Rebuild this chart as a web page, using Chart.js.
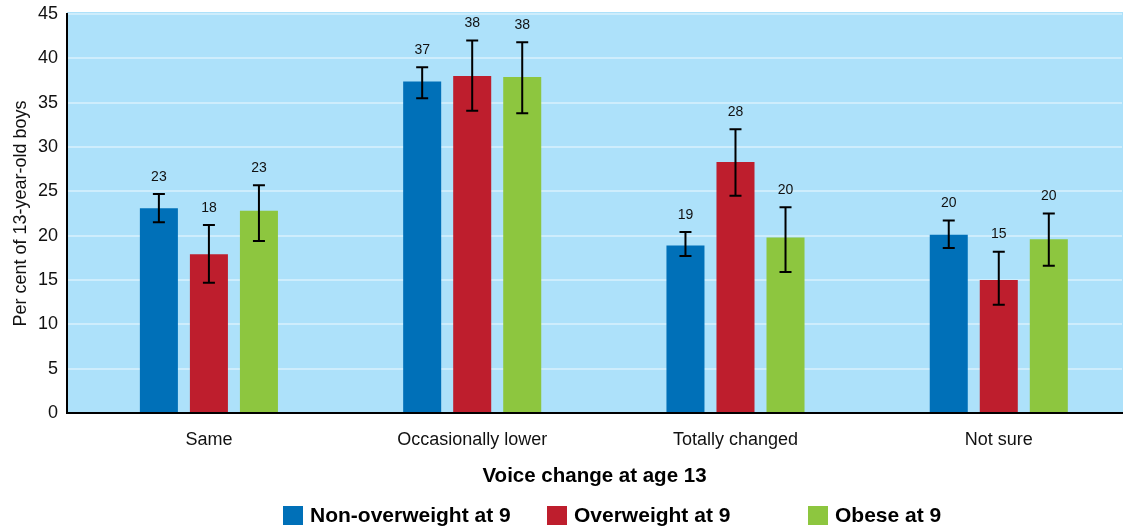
<!DOCTYPE html>
<html>
<head>
<meta charset="utf-8">
<script src="https://cdn.jsdelivr.net/npm/chart.js@4.4.1/dist/chart.umd.min.js"></script>
<style>
  html, body { margin: 0; padding: 0; background: #fff; overflow: hidden; }
  #wrap { position: relative; width: 1123px; height: 529px; }
  #legend { position: absolute; left: 0; top: 504px; width: 1123px; height: 22px;
            font-family: "Liberation Sans", Arial, sans-serif; font-weight: bold; font-size: 21px; color: #000; }
  .item { position: absolute; top: 0; display: flex; align-items: center; height: 22px; }
  .box { width: 20px; height: 19px; margin-right: 7px; }
</style>
</head>
<body>
<div id="wrap">
  <canvas id="voiceChart" width="1123" height="529"></canvas>
  <div id="legend"></div>
</div>
<script>
// data
const categories = ['Same', 'Occasionally lower', 'Totally changed', 'Not sure'];
const seriesNames = ['Non-overweight at 9', 'Overweight at 9', 'Obese at 9'];
const nonOverweight = [23.1, 37.4, 18.9, 20.1];
const overweight    = [17.9, 38.0, 28.3, 15.0];
const obese         = [22.8, 37.9, 19.8, 19.6];
// error bar ends (low, high)
const nonOverweightLow  = [21.5, 35.5, 17.7, 18.6];
const nonOverweightHigh = [24.7, 39.0, 20.4, 21.7];
const overweightLow     = [14.7, 34.1, 24.5, 12.2];
const overweightHigh    = [21.2, 42.0, 32.0, 18.2];
const obeseLow          = [19.4, 33.8, 15.9, 16.6];
const obeseHigh         = [25.7, 41.8, 23.2, 22.5];
const yTicks = [0, 5, 10, 15, 20, 25, 30, 35, 40, 45];

const colors = ['#0070B8', '#BE1E2D', '#8DC63F'];
const errLow = [nonOverweightLow, overweightLow, obeseLow];
const errHigh = [nonOverweightHigh, overweightHigh, obeseHigh];
const fontFamily = '"Liberation Sans", Arial, sans-serif';

// Latar belakang area plot biru muda
const plotBackground = {
  id: 'plotBackground',
  beforeDraw(chart) {
    const { ctx, chartArea: a } = chart;
    ctx.save();
    ctx.fillStyle = '#ADE1FA';
    ctx.fillRect(a.left, a.top - 2, a.right - a.left + 2, a.bottom - a.top + 2);
    ctx.restore();
  }
};

// error bar + angka di atasnya
const errorBars = {
  id: 'errorBars',
  afterDatasetsDraw(chart) {
    const { ctx } = chart;
    const y = chart.scales.y;
    ctx.save();
    chart.data.datasets.forEach((ds, di) => {
      const meta = chart.getDatasetMeta(di);
      meta.data.forEach((bar, i) => {
        const top = y.getPixelForValue(errHigh[di][i]);
        const bot = y.getPixelForValue(errLow[di][i]);
        ctx.strokeStyle = '#000';
        ctx.lineWidth = 2;
        ctx.beginPath();
        ctx.moveTo(bar.x, top); ctx.lineTo(bar.x, bot);
        ctx.moveTo(bar.x - 6, top); ctx.lineTo(bar.x + 6, top);
        ctx.moveTo(bar.x - 6, bot); ctx.lineTo(bar.x + 6, bot);
        ctx.stroke();
        ctx.fillStyle = '#111';
        ctx.font = '14px ' + fontFamily;
        ctx.textAlign = 'center';
        ctx.textBaseline = 'middle';
        ctx.fillText(Math.round(ds.data[i].y), bar.x, top - 17);
      });
    });
    ctx.restore();
  }
};

const ctx = document.getElementById('voiceChart').getContext('2d');
const voiceChart = new Chart(ctx, {
  type: 'bar',
  data: {
    datasets: [nonOverweight, overweight, obese].map((d, i) => ({
      label: seriesNames[i],
      data: d.map((v, k) => ({ x: k, y: v })),
      backgroundColor: colors[i],
      borderWidth: 0,
      categoryPercentage: 0.57,
      barPercentage: 0.76
    }))
  },
  options: {
    responsive: false,
    animation: false,
    layout: { padding: { top: 14, right: 1, left: 0, bottom: 39 } },
    plugins: { legend: { display: false }, tooltip: { enabled: false } },
    scales: {
      x: {
        type: 'linear',
        min: -0.539, max: 3.468,
        offset: false,
        afterBuildTicks(scale) { scale.ticks = categories.map((c, k) => ({ value: k })); },
        grid: { display: false, drawTicks: false },
        border: { color: '#000', width: 2 },
        ticks: {
          color: '#111', padding: 16, autoSkip: false, maxRotation: 0,
          font: { family: fontFamily, size: 18 },
          callback: (v) => categories[v]
        },
        title: {
          display: true, text: 'Voice change at age 13', color: '#000',
          padding: { top: 2, bottom: 1 },
          font: { family: fontFamily, size: 20.5, weight: 'bold' }
        },
        afterFit(scale) { scale.height = 77; scale.paddingLeft = 0; scale.paddingRight = 0; }
      },
      y: {
        min: 0, max: 45,
        afterBuildTicks(scale) { scale.ticks = yTicks.map(v => ({ value: v })); },
        grid: { color: 'rgba(255,255,255,0.4)', lineWidth: 2, drawTicks: false },
        border: { color: '#000', width: 2 },
        ticks: { color: '#111', padding: 9, font: { family: fontFamily, size: 18 } },
        title: {
          display: true, text: 'Per cent of 13-year-old boys', color: '#111',
          padding: { top: 10, bottom: 0 },
          font: { family: fontFamily, size: 18 }
        },
        afterFit(scale) { scale.width = 67; scale.paddingTop = 0; scale.paddingBottom = 0; }
      }
    }
  },
  plugins: [plotBackground, errorBars]
});

// legend manual (jarak antar item tidak rata di gambar asli)
const legendLeft = [283, 547, 808];
const legendEl = document.getElementById('legend');
seriesNames.forEach((name, i) => {
  const item = document.createElement('div');
  item.className = 'item';
  item.style.left = legendLeft[i] + 'px';
  item.innerHTML = '<span class="box" style="background:' + colors[i] + '"></span><span>' + name + '</span>';
  legendEl.appendChild(item);
});
</script>
</body>
</html>
